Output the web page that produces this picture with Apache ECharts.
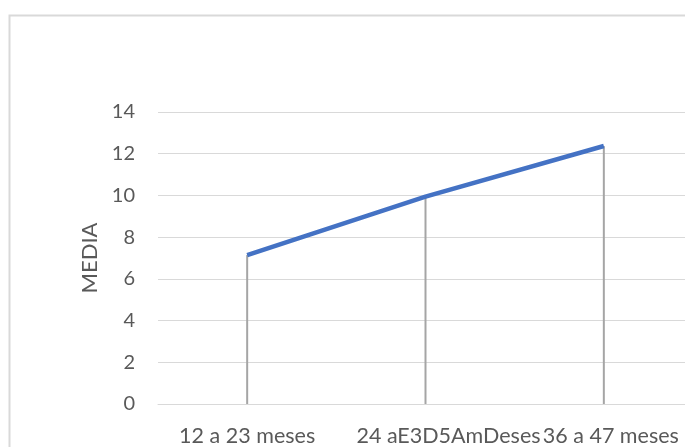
<!DOCTYPE html>
<html><head><meta charset="utf-8">
<script src="https://cdn.jsdelivr.net/npm/echarts@6/dist/echarts.min.js"></script>
<style>html,body{margin:0;padding:0;background:#fff}#c{width:685px;height:447px}</style>
</head><body><div id="c"></div>
<script>
const categories = ["12 a 23 meses", "24 aE3D5AmDeses", "36 a 47 meses"];
const mediaValues = [7.14, 9.94, 12.37];
const yTicks = [0, 2, 4, 6, 8, 10, 12, 14];
const yAxisTitle = "MEDIA";

const chart = echarts.init(document.getElementById('c'), null, {renderer: 'canvas'});
const font = 'Lato, "Open Sans", sans-serif';
chart.setOption({
  animation: false,
  graphic: [{
    type: 'rect', left: 7, top: 13, silent: true,
    shape: {width: 720, height: 480},
    style: {fill: 'none', stroke: '#d9d9d9', lineWidth: 2}
  }],
  grid: {left: 158, width: 535, top: 112, bottom: 43, containLabel: false, outerBoundsMode: 'none'},
  xAxis: {
    type: 'category', data: categories, boundaryGap: true,
    axisLine: {lineStyle: {color: '#d9d9d9', width: 1}},
    axisTick: {show: false},
    axisLabel: {
      color: '#595959', fontSize: 21.5, fontFamily: font, margin: 21, interval: 0, hideOverlap: false,
      formatter: (v, i) => i === 1 ? '{m|' + v + '}' : (i === 2 ? '{r|' + v + '}' : v),
      rich: {
        m: {color: '#595959', fontSize: 21.5, fontFamily: font, padding: [0, 0, 0, 46]},
        r: {color: '#595959', fontSize: 21.5, fontFamily: font, padding: [0, 0, 0, 14]}
      }
    }
  },
  yAxis: {
    type: 'value', min: yTicks[0], max: yTicks[yTicks.length - 1], interval: 2,
    name: yAxisTitle, nameLocation: 'middle', nameGap: 57, nameRotate: 90,
    nameTextStyle: {color: '#595959', fontSize: 22, fontFamily: font},
    axisLine: {show: false}, axisTick: {show: false},
    axisLabel: {color: '#595959', fontSize: 20, fontFamily: font, margin: 23},
    splitLine: {lineStyle: {color: '#d9d9d9', width: 1}}
  },
  series: [{
    type: 'bar', data: mediaValues, barWidth: 2, z: 1,
    itemStyle: {color: '#a5a5a5'}, silent: true
  }, {
    type: 'line', data: mediaValues, z: 3, symbol: 'none',
    lineStyle: {color: '#4472c4', width: 4.5, cap: 'butt'}
  }]
});
</script></body></html>
